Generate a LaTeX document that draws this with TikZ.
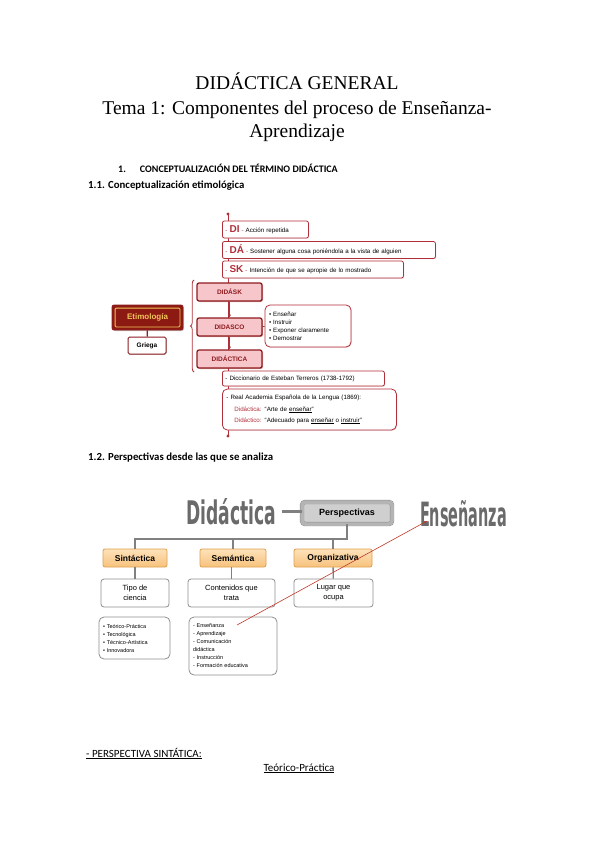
\documentclass[tikz,border=0pt]{standalone}
\usepackage{fontspec}
\setmainfont{Liberation Serif}
\newfontfamily\calibfont{Carlito}
\newfontfamily\arialfont{Liberation Sans}
\newfontfamily\heavyfont{DejaVu Sans}
\usetikzlibrary{shadows,decorations.pathreplacing,arrows.meta}

\definecolor{boxred}{HTML}{B0303A}
\definecolor{darkred}{HTML}{8E1B1F}
\definecolor{pinkfill}{HTML}{F7C6CA}
\definecolor{etimfill}{HTML}{8C1A12}
\definecolor{etimgold}{HTML}{F2C45A}
\definecolor{bigGrey}{HTML}{6A6A6A}
\definecolor{perspEdge}{HTML}{8C8C8C}
\definecolor{perspRing}{HTML}{B4B4B4}
\definecolor{perspIn}{HTML}{CFCFCF}
\definecolor{treeGrey}{HTML}{808080}
\definecolor{orangeTop}{HTML}{FDE2BA}
\definecolor{orangeBot}{HTML}{F7C27C}
\definecolor{orangeEdge}{HTML}{DFA050}
\definecolor{descGrey}{HTML}{8F8F8F}
\definecolor{arrowRed}{HTML}{C0392B}

\tikzset{
  >={Stealth[length=3pt,width=3pt]},
  titlefont/.style={font=\fontsize{19.5}{24}\selectfont, inner sep=0pt},
  headfont/.style={font=\calibfont\bfseries\fontsize{10.8}{12}\selectfont, inner sep=0pt},
  bodyfont/.style={font=\calibfont\fontsize{11}{12}\selectfont, inner sep=0pt},
  etymline/.style={draw=boxred, line width=0.8pt},
  leafbox/.style={draw=boxred, fill=white, rounded corners=2pt, line width=0.8pt,
    inner xsep=3pt, inner ysep=0pt, minimum height=17pt, align=left,
    font=\arialfont\fontsize{6.2}{7}\selectfont,
    drop shadow={shadow xshift=0.7pt, shadow yshift=-0.7pt, fill=boxred!50}},
  rootbox/.style={draw=darkred, fill=pinkfill, rounded corners=2pt, line width=1.3pt,
    minimum width=65pt, minimum height=18pt, text=darkred,
    font=\arialfont\bfseries\fontsize{6.5}{7}\selectfont,
    drop shadow={shadow xshift=1pt, shadow yshift=-1pt, fill=darkred!70}},
  etymbox/.style={draw=darkred, fill=etimfill, rounded corners=2pt, line width=0.8pt,
    minimum width=71pt, minimum height=25pt, text=etimgold,
    font=\arialfont\bfseries\fontsize{8}{9}\selectfont,
    drop shadow={shadow xshift=1pt, shadow yshift=-1pt, fill=black!40}},
  griegabox/.style={draw=darkred, fill=white, rounded corners=1.5pt, line width=1pt,
    minimum width=38pt, minimum height=17pt,
    font=\arialfont\bfseries\fontsize{6.5}{7}\selectfont,
    drop shadow={shadow xshift=0.8pt, shadow yshift=-0.8pt, fill=black!35}},
  bigword/.style={text=bigGrey, font=\heavyfont\bfseries, inner sep=0pt},
  perspbox/.style={draw=perspEdge, double=perspRing, double distance=3.5pt, fill=perspIn,
    rounded corners=3pt, minimum width=90pt, minimum height=22pt,
    font=\arialfont\bfseries\fontsize{9}{10}\selectfont,
    drop shadow={shadow xshift=1pt, shadow yshift=-1pt, fill=black!30}},
  greyline/.style={draw=treeGrey, line width=2.2pt},
  catbox/.style={draw=orangeEdge, top color=orangeTop, bottom color=orangeBot,
    rounded corners=2pt, line width=0.8pt, minimum height=18pt,
    font=\arialfont\bfseries\fontsize{8.5}{9}\selectfont},
  descbox/.style={draw=descGrey, fill=white, rounded corners=3pt, line width=0.8pt,
    minimum height=28pt, align=center, inner sep=1pt,
    font=\arialfont\fontsize{7.5}{10}\selectfont},
  greylist/.style={draw=descGrey, fill=white, rounded corners=5pt, line width=0.8pt,
    inner xsep=4pt, align=left, font=\arialfont\fontsize{5.5}{8}\selectfont},
  redarrow/.style={draw=arrowRed, line width=0.6pt, ->}
}

\begin{document}
\begin{tikzpicture}[x=1pt, y=-1pt]
\fill [white] (0, 0) rectangle (599, 848);
\useasboundingbox (0, 0) rectangle (599, 848);

% title and headings
\node at (297, 90) [anchor=base, titlefont] (titleA) {DIDÁCTICA GENERAL};
\node at (297, 114) [anchor=base, titlefont] (titleB) {Tema 1: Componentes del proceso de Enseñanza-};
\node at (297, 138) [anchor=base, titlefont] (titleC) {Aprendizaje};
\node at (118, 172) [anchor=base west, headfont, font=\calibfont\bfseries\fontsize{10}{12}\selectfont] (secOne) {1.\hspace{14pt}CONCEPTUALIZACIÓN DEL TÉRMINO DIDÁCTICA};
\node at (88, 188) [anchor=base west, headfont] (secOneOne) {1.1. Conceptualización etimológica};

% etymology
\coordinate (etymTop) at (228, 214);
\coordinate (etymBottom) at (228, 436);
\draw [etymline] (etymTop) to (etymBottom);
\fill [boxred] (etymTop) circle (1.6pt);
\fill [boxred] (etymBottom) circle (1.6pt);

\node at (222, 229.5) [anchor=west, leafbox, text width=80pt] (di) {\textcolor{boxred}{- {\fontsize{10}{10}\selectfont\bfseries DI} -} Acción repetida};
\node at (222, 250) [anchor=west, leafbox, text width=207pt] (da) {\textcolor{boxred}{- {\fontsize{10}{10}\selectfont\bfseries DÁ} -} Sostener alguna cosa poniéndola a la vista de alguien};
\node at (222, 269.5) [anchor=west, leafbox, text width=175pt] (sk) {\textcolor{boxred}{- {\fontsize{10}{10}\selectfont\bfseries SK} -} Intención de que se apropie de lo mostrado};

\draw [etymline, decorate, decoration={brace, amplitude=3.5pt}] (194, 372) to (194, 280);

\node at (229.5, 292) [rootbox] (didask) {DIDÁSK};
\node at (229.5, 327) [rootbox] (didasco) {DIDASCO};
\node at (229.5, 359) [rootbox] (didactica) {DIDÁCTICA};
\draw [->, etymline] (didask) to (didasco);
\draw [->, etymline] (didasco) to (didactica);

\node at (308, 326) [leafbox, rounded corners=5pt, text width=78pt, inner xsep=4pt, minimum height=42pt, font=\arialfont\fontsize{6.2}{8}\selectfont] (didascoList) {• Enseñar\\ • Instruir\\ • Exponer claramente\\ • Demostrar};
\draw [etymline] (didasco) to (didascoList);

\node at (147.5, 317.5) [etymbox] (etim) {Etimología};
\draw [etimgold, line width=0.8pt, rounded corners=1pt] ([shift={(3.5pt,-3.5pt)}]etim.north west) rectangle ([shift={(-3.5pt,3.5pt)}]etim.south east);
\node at (147, 345.5) [griegabox] (griega) {Griega};
\draw [draw=darkred, line width=1.2pt] (etim) to (griega);

\node at (222, 378.5) [anchor=west, leafbox, text width=156pt, minimum height=15pt] (terreros) {- Diccionario de Esteban Terreros (1738-1792)};
\node at (222, 409.5) [anchor=west, leafbox, rounded corners=5pt, text width=166pt, inner xsep=4pt, minimum height=41pt, font=\arialfont\fontsize{6.2}{11}\selectfont] (rae) {- Real Academia Española de la Lengua (1869):\\[1pt]
\hspace*{8pt}\textcolor{boxred}{Didáctica:} “Arte de \underline{enseñar}”\\
\hspace*{8pt}\textcolor{boxred}{Didáctico:} “Adecuado para \underline{enseñar} o \underline{instruir}”};

% perspectives
\node at (88, 460) [anchor=base west, headfont] (secOneTwo) {1.2. Perspectivas desde las que se analiza};

\node at (231, 511.5) [bigword] (didWord) {\resizebox{90pt}{26pt}{Didáctica}};
\node at (463.5, 514) [bigword] (ensWord) {\resizebox{87pt}{26pt}{Enseñanza}};
\node at (347, 513) [perspbox] (persp) {Perspectivas};
\draw [greyline, line width=2.8pt] (didWord.east) ++(6pt, 0) to (didWord.east -| persp.west);

\coordinate (branch) at (347, 539);
\node at (135, 558) [catbox, minimum width=64pt] (sint) {Sintáctica};
\node at (233, 558) [catbox, minimum width=66pt] (sem) {Semántica};
\node at (333, 558) [catbox, minimum width=78pt] (org) {Organizativa};
\draw [greyline] (persp.south) -- (branch) -| (sint.north);
\draw [greyline] (branch -| sem.north) -- (sem.north);
\draw [greyline] (branch -| org.north) -- (org.north);

\node at (135, 593) [descbox, minimum width=68pt] (tipo) {Tipo de\\ciencia};
\node at (231.5, 593) [descbox, minimum width=87pt] (contenidos) {Contenidos que\\trata};
\node at (333.5, 593) [descbox, minimum width=79pt] (lugar) {Lugar que\\ocupa};
\draw [greyline, line width=1.4pt] (sint) to (tipo);
\draw [greyline, line width=1.4pt] (sem.south -| contenidos.north) to (contenidos);
\draw [greyline, line width=1.4pt] (org) to (lugar);

\node at (134.5, 638) [greylist, text width=63pt, minimum height=42pt] (sintList) {• Teórico-Práctica\\ • Tecnológica\\ • Técnico-Artística\\ • Innovadora};
\node at (233, 646) [greylist, text width=80pt, minimum height=58pt] (semList) {- Enseñanza\\ - Aprendizaje\\ - Comunicación\\ didáctica\\ - Instrucción\\ - Formación educativa};

\coordinate (ensTail) at (237, 625);
\coordinate (ensTip) at (427, 521);
\draw [redarrow] (ensTail) to (ensTip);

% syntactic perspective
\node at (86, 757) [anchor=base west, bodyfont] (perspSint) {\underline{- PERSPECTIVA SINTÁTICA:}};
\node at (299, 771) [anchor=base, bodyfont] (teorico) {\underline{Teórico-Práctica}};
\end{tikzpicture}
\end{document}
